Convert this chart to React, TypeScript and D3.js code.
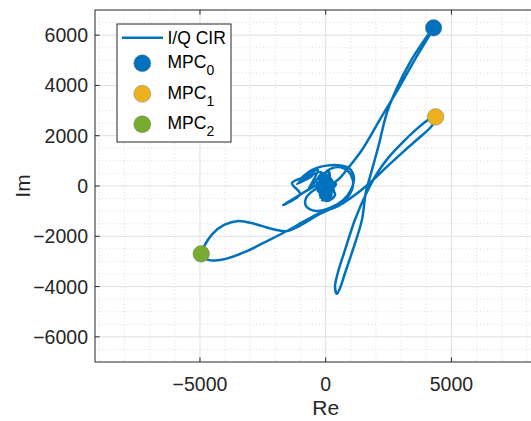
import React from 'react';
import * as d3 from 'd3';

// I/Q channel impulse response trace (Re, Im)
const cirRe = [
  -30, 170, -190, 330, -310, 50, 210, -150, 410, -390, 10, 130, -230, 290, -70, -350,
  60, -120, 220, -260, 140, -40, 300, -200, 90, -110, 250, -300, 30, 180, -170, 110, -60, 260, -240, 0, 150, -90,
  200, -280, 70, -140, 320, -210, 40, 120, -50,
  -500, -1690, -1020, -1340, -540, -1140, -310, -700, -190, -1020, -540, -30, 490, 920, 1120, 1000, 690, 170, -380, -780, -780, -460, -70, -230, 50, 370, 250,
  570, 960, 1440, 2190, 2910, 3580, 4060, 4290,
  4180, 3900, 3380, 2830, 2430, 2110, 1840, 1600, 1440, 1080, 770, 570, 450,
  370, 490, 770, 1160, 1640, 2080, 2510, 3030, 3580, 4060, 4370,
  4220, 3660, 3070, 2470, 1840, 1160, 490, -230, -900, -1540, -2410, -3200, -4000, -4670, -4950,
  -4830, -4510, -4040, -3480, -2810, -2130, -1540, -900, -310, 290, 770, 1040, 1080, 880, 490, 10, -150,
];
const cirIm = [
  0, 240, 120, -160, -200, 360, -400, -560, 80, 0, -240, 560, 320, 0, -440, 160,
  -300, 420, -80, 260, -500, 180, 140, -340, 460, -180, -260, 80, 300, -420, -40, 380, -560, 220, -280, 100, -160, 40,
  300, -100, -380, 520, 60, -460, 200, -300, 130,
  -40, -760, -320, 120, 400, 80, 640, -160, 560, 240, 640, 800, 830, 720, 360, -160, -560, -870, -990, -800, -480, -160, 0, -360, -600, -360, 0,
  320, 800, 1430, 2700, 3900, 5090, 5880, 6290,
  6160, 5770, 4970, 3900, 2900, 1630, 640, -240, -1350, -2540, -3460, -4060, -4290,
  -4020, -3420, -2540, -1350, -240, 560, 1150, 1710, 2230, 2620, 2750,
  2390, 1870, 1350, 800, 200, -360, -800, -1070, -1430, -1790, -2230, -2620, -2900, -2940, -2700,
  -2390, -1910, -1550, -1390, -1510, -1710, -1790, -1510, -1150, -870, -560, -160, 240, 600, 760, 560, 240,
];

// multipath components
const mpcLabels = ['0', '1', '2'];
const mpcRe = [4290, 4370, -4950];
const mpcIm = [6290, 2750, -2700];
const mpcColors = ['#0072BD', '#EDB120', '#77AC30'];

const xTicks = [-5000, 0, 5000];
const yTicks = [-6000, -4000, -2000, 0, 2000, 4000, 6000];
const xMinor = d3.range(-9000, 9001, 1000).filter((v) => v % 5000 !== 0);
const yMinor = d3.range(-6500, 6501, 500).filter((v) => v % 2000 !== 0);

const W = 531;
const H = 421;
const left = 95;
const top = 10;
const bottom = 362;
const right = 556.4;

const fmt = (v: number) => (v < 0 ? '\u2212' + Math.abs(v) : String(v));

export default function App() {
  const x = d3.scaleLinear().domain([-9175, 9175]).range([left, right]);
  const y = d3.scaleLinear().domain([-7000, 7000]).range([bottom, top]);

  const pts: [number, number][] = cirRe.map((r, i) => [r, cirIm[i]]);
  const line = d3
    .line<[number, number]>()
    .x((d) => x(d[0]))
    .y((d) => y(d[1]))
    .curve(d3.curveCatmullRom.alpha(0.5));

  const axisColor = '#262626';
  const font = '"Liberation Sans", Arial, sans-serif';

  return (
    <svg
      width={W}
      height={H}
      style={{ position: 'absolute', left: 0, top: 0, background: '#fff', overflow: 'hidden' }}
      fontFamily={font}
    >
      <defs>
        <clipPath id="plotArea">
          <rect x={left} y={top} width={right - left} height={bottom - top} />
        </clipPath>
      </defs>
      <rect x={left} y={top} width={right - left} height={bottom - top} fill="#fff" />

      {/* minor grid */}
      <g stroke="#d4d4d4" strokeWidth={0.8} strokeDasharray="1,2.5">
        {xMinor.map((v) => (
          <line key={'xm' + v} x1={x(v)} x2={x(v)} y1={top} y2={bottom} />
        ))}
        {yMinor.map((v) => (
          <line key={'ym' + v} x1={left} x2={right} y1={y(v)} y2={y(v)} />
        ))}
      </g>
      {/* major grid */}
      <g stroke="#dfdfdf" strokeWidth={1}>
        {xTicks.map((v) => (
          <line key={'xg' + v} x1={x(v)} x2={x(v)} y1={top} y2={bottom} />
        ))}
        {yTicks.map((v) => (
          <line key={'yg' + v} x1={left} x2={right} y1={y(v)} y2={y(v)} />
        ))}
      </g>

      {/* CIR trace */}
      <g clipPath="url(#plotArea)">
        <path d={line(pts) || ''} fill="none" stroke="#0072BD" strokeWidth={2.5} strokeLinejoin="round" />
        {mpcRe.map((r, i) => (
          <circle
            key={'m' + i}
            cx={x(r)}
            cy={y(mpcIm[i])}
            r={8.3}
            fill={mpcColors[i]}
            stroke="#7a7a7a"
            strokeOpacity={0.6}
            strokeWidth={0.8}
          />
        ))}
      </g>

      {/* axes box and ticks */}
      <g stroke={axisColor} strokeWidth={1} fill="none">
        <rect x={left} y={top} width={right - left} height={bottom - top} />
        {xTicks.map((v) => (
          <g key={'xt' + v}>
            <line x1={x(v)} x2={x(v)} y1={bottom} y2={bottom - 4.6} />
            <line x1={x(v)} x2={x(v)} y1={top} y2={top + 4.6} />
          </g>
        ))}
        {yTicks.map((v) => (
          <line key={'yt' + v} x1={left} x2={left + 4.6} y1={y(v)} y2={y(v)} />
        ))}
      </g>

      {/* tick labels */}
      <g fill={axisColor} fontSize={19.5}>
        {xTicks.map((v) => (
          <text key={'xl' + v} x={x(v)} y={391} textAnchor="middle">
            {fmt(v)}
          </text>
        ))}
        {yTicks.map((v) => (
          <text key={'yl' + v} x={88} y={y(v)} textAnchor="end" dominantBaseline="central">
            {fmt(v)}
          </text>
        ))}
      </g>

      {/* axis labels */}
      <text x={x(0)} y={415} textAnchor="middle" fontSize={21} fill={axisColor}>
        Re
      </text>
      <text
        transform={`translate(30,${y(0)}) rotate(-90)`}
        textAnchor="middle"
        fontSize={21}
        fill={axisColor}
      >
        Im
      </text>

      {/* legend */}
      <g>
        <rect x={117} y={24} width={114} height={118} fill="#fff" stroke={axisColor} strokeWidth={1} />
        <line x1={122} x2={163} y1={37.7} y2={37.7} stroke="#0072BD" strokeWidth={2.5} />
        <text x={167.5} y={44} fontSize={17.5} fill="#000">
          I/Q CIR
        </text>
        {mpcLabels.map((lab, i) => {
          const cy = 63.3 + i * 30.5;
          return (
            <g key={'lg' + i}>
              <circle cx={142.3} cy={cy} r={8.5} fill={mpcColors[i]} stroke="#7a7a7a" strokeOpacity={0.6} strokeWidth={0.8} />
              <text x={167.5} y={cy + 5} fontSize={17.5} fill="#000">
                MPC
                <tspan fontSize={14} dy={7}>
                  {lab}
                </tspan>
              </text>
            </g>
          );
        })}
      </g>
    </svg>
  );
}
